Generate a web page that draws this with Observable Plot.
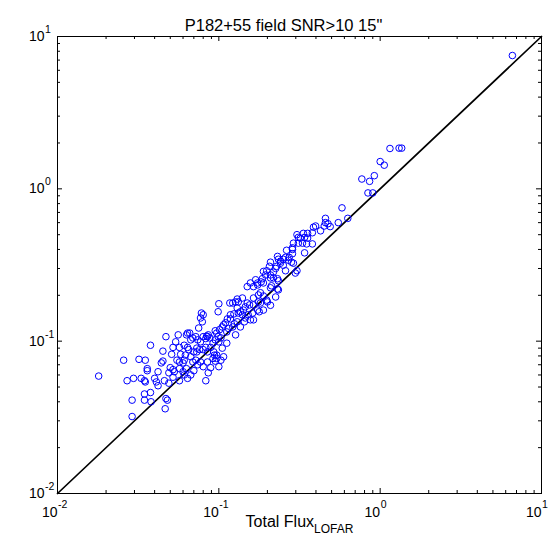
<!DOCTYPE html>
<html>
<head>
<meta charset="utf-8">
<script src="https://cdn.jsdelivr.net/npm/d3@7"></script>
<script src="https://cdn.jsdelivr.net/npm/@observablehq/plot@0.6"></script>
<style>
  body { margin: 0; background: #fff; }
  #chart svg { display: block; }
</style>
</head>
<body>
<div id="chart"></div>
<script>
// Total flux LOFAR (x) and comparison flux (y)
const fluxLOFAR = [
  0.018, 0.0257, 0.027, 0.0296, 0.029, 0.029, 0.032, 0.035, 0.036, 0.036,
  0.033, 0.0346, 0.035, 0.0377, 0.0377, 0.0346, 0.0346, 0.038, 0.040, 0.041,
  0.042, 0.042, 0.044, 0.045, 0.047, 0.045, 0.046, 0.047, 0.048, 0.0465,
  0.049, 0.051, 0.050, 0.049, 0.052, 0.052, 0.053, 0.056, 0.057, 0.058,
  0.057, 0.057, 0.060, 0.061, 0.061, 0.060, 0.064, 0.064, 0.083, 0.063,
  0.066, 0.067, 0.069, 0.072, 0.074, 0.064, 0.077, 0.080, 0.084, 0.075,
  0.079, 0.077, 0.080, 0.078, 0.083, 0.086, 0.085, 0.083, 0.097, 0.099,
  0.103, 0.095, 0.100, 0.099, 0.100, 0.117, 0.122, 0.127, 0.132, 0.140,
  0.150, 0.155, 0.146, 0.142, 0.136, 0.132, 0.140, 0.162, 0.152, 0.146,
  0.174, 0.164, 0.130, 0.125, 0.122, 0.115, 0.112, 0.118, 0.110, 0.107,
  0.105, 0.073, 0.070, 0.076, 0.073, 0.080, 0.085, 0.089, 0.093, 0.097,
  0.092, 0.094, 0.097, 0.103, 0.107, 0.074, 0.100, 0.061, 0.065, 0.062,
  0.067, 0.069, 0.072, 0.077, 0.080, 0.085, 0.089, 0.063, 0.070, 0.086,
  0.095, 0.055, 0.052, 0.054, 0.067, 0.057, 0.150, 0.164, 0.174, 0.176,
  0.181, 0.157, 0.169, 0.174, 0.183, 0.186, 0.195, 0.189, 0.198, 0.189,
  0.218, 0.209, 0.218, 0.209, 0.231, 0.234, 0.212, 0.231, 0.225, 0.189,
  0.209, 0.234, 0.259, 0.298, 0.305, 0.209, 0.206, 0.231, 0.234, 0.241,
  0.251, 0.228, 0.225, 0.259, 0.251, 0.241, 0.273, 0.270, 0.282, 0.290,
  0.286, 0.286, 0.181, 0.198, 0.209, 0.189, 0.178, 0.386, 0.427, 0.380,
  0.334, 0.305, 0.311, 0.355, 0.330, 0.380, 0.290, 0.286, 0.340, 0.450,
  0.458, 0.458, 0.490, 0.550, 0.580, 0.630, 0.398, 0.320, 0.263, 0.77,
  0.86, 0.92, 0.84, 0.90, 1.00, 1.06, 1.15, 1.31, 1.36, 6.6,
  0.095, 0.101, 0.113, 0.118, 0.124, 0.088, 0.092, 0.105, 0.112, 0.127,
  0.136, 0.144, 0.157, 0.164, 0.176, 0.130, 0.200, 0.164, 0.130, 0.355,
  0.340, 0.311, 0.350, 0.475
];
const fluxComparison = [
  0.059, 0.075, 0.055, 0.057, 0.041, 0.032, 0.076, 0.075, 0.066, 0.064,
  0.057, 0.055, 0.054, 0.094, 0.046, 0.045, 0.041, 0.040, 0.057, 0.054,
  0.051, 0.063, 0.072, 0.074, 0.107, 0.086, 0.055, 0.042, 0.041, 0.036,
  0.062, 0.082, 0.067, 0.053, 0.065, 0.058, 0.063, 0.110, 0.091, 0.082,
  0.066, 0.073, 0.072, 0.075, 0.060, 0.063, 0.113, 0.057, 0.055, 0.110,
  0.113, 0.102, 0.105, 0.107, 0.102, 0.091, 0.099, 0.107, 0.108, 0.122,
  0.134, 0.142, 0.149, 0.153, 0.091, 0.110, 0.107, 0.104, 0.113, 0.107,
  0.105, 0.102, 0.099, 0.156, 0.176, 0.178, 0.178, 0.181, 0.181, 0.192,
  0.178, 0.173, 0.168, 0.160, 0.156, 0.153, 0.149, 0.153, 0.149, 0.142,
  0.160, 0.138, 0.134, 0.130, 0.124, 0.121, 0.115, 0.140, 0.132, 0.128,
  0.124, 0.090, 0.085, 0.088, 0.085, 0.088, 0.085, 0.091, 0.085, 0.081,
  0.077, 0.081, 0.077, 0.075, 0.079, 0.070, 0.068, 0.094, 0.088, 0.081,
  0.079, 0.073, 0.075, 0.073, 0.068, 0.073, 0.067, 0.066, 0.064, 0.062,
  0.074, 0.075, 0.091, 0.099, 0.060, 0.055, 0.228, 0.228, 0.234, 0.201,
  0.208, 0.241, 0.253, 0.241, 0.245, 0.257, 0.272, 0.241, 0.290, 0.287,
  0.284, 0.272, 0.260, 0.260, 0.257, 0.249, 0.231, 0.220, 0.195, 0.198,
  0.224, 0.217, 0.290, 0.280, 0.290, 0.330, 0.310, 0.360, 0.345, 0.325,
  0.315, 0.310, 0.300, 0.355, 0.345, 0.335, 0.355, 0.340, 0.330, 0.325,
  0.400, 0.375, 0.178, 0.186, 0.172, 0.160, 0.156, 0.56, 0.53, 0.515,
  0.51, 0.50, 0.48, 0.475, 0.44, 0.435, 0.44, 0.41, 0.38, 0.57,
  0.60, 0.64, 0.565, 0.60, 0.75, 0.64, 0.57, 0.475, 0.395, 1.16,
  1.12, 1.22, 0.94, 0.94, 1.51, 1.43, 1.84, 1.85, 1.85, 7.5,
  0.117, 0.119, 0.140, 0.149, 0.151, 0.105, 0.097, 0.090, 0.097, 0.110,
  0.124, 0.134, 0.138, 0.173, 0.181, 0.165, 0.181, 0.192, 0.189, 0.51,
  0.48, 0.44, 0.435, 0.59
];

const majorTicks = [0.01, 0.1, 1, 10];
const tickExponents = ["-2", "-1", "0", "1"];
const minorTicks = [
  0.02, 0.03, 0.04, 0.05, 0.06, 0.07, 0.08, 0.09,
  0.2, 0.3, 0.4, 0.5, 0.6, 0.7, 0.8, 0.9,
  2, 3, 4, 5, 6, 7, 8, 9
];
const identityLine = [0.01, 10];
const titleText = "P182+55 field SNR>10 15\"";
const xLabelText = "Total Flux";
const xLabelSub = "LOFAR";

const points = fluxLOFAR.map((v, i) => ({lofar: v, other: fluxComparison[i]}));

const W = 549, H = 543;
const mL = 57, mR = 8, mT = 36, mB = 50;
const pw = W - mL - mR, ph = H - mT - mB;
const majLen = 5, minLen = 3;
const fmt = d => "10^" + tickExponents[majorTicks.indexOf(d)];

const chart = Plot.plot({
  width: W, height: H,
  marginLeft: mL, marginRight: mR, marginTop: mT, marginBottom: mB,
  x: {type: "log", domain: [0.01, 10]},
  y: {type: "log", domain: [0.01, 10]},
  style: {fontFamily: "'Liberation Sans', Arial, Helvetica, sans-serif", background: "#fff", color: "#000"},
  marks: [
    Plot.line(identityLine, {x: d => d, y: d => d, stroke: "#000", strokeWidth: 1.7}),
    Plot.dot(points, {x: "lofar", y: "other", r: 3.3, stroke: "#0000ff", strokeWidth: 1, fill: "none"}),
    // inward ticks on all four sides
    Plot.tickX(majorTicks, {x: d => d, insetTop: ph - majLen, stroke: "#000"}),
    Plot.tickX(minorTicks, {x: d => d, insetTop: ph - minLen, stroke: "#000"}),
    Plot.tickX(majorTicks, {x: d => d, insetBottom: ph - majLen, stroke: "#000"}),
    Plot.tickX(minorTicks, {x: d => d, insetBottom: ph - minLen, stroke: "#000"}),
    Plot.tickY(majorTicks, {y: d => d, insetRight: pw - majLen, stroke: "#000"}),
    Plot.tickY(minorTicks, {y: d => d, insetRight: pw - minLen, stroke: "#000"}),
    Plot.tickY(majorTicks, {y: d => d, insetLeft: pw - majLen, stroke: "#000"}),
    Plot.tickY(minorTicks, {y: d => d, insetLeft: pw - minLen, stroke: "#000"}),
    Plot.frame({stroke: "#000", strokeWidth: 1}),
    Plot.axisX(majorTicks, {tickSize: 0, tickPadding: 14, tickFormat: fmt, fontSize: 14, label: null}),
    Plot.axisY(majorTicks, {tickSize: 0, tickPadding: 13, tickFormat: fmt, fontSize: 14, label: null}),
    Plot.text([titleText], {frameAnchor: "top", dy: -17, dx: -16, fontSize: 16.5}),
    Plot.text([xLabelText], {frameAnchor: "bottom", dy: 33, fontSize: 16})
  ]
});

// superscript exponents: "10" ends at anchor, exponent starts there
function splitSup(label) {
  chart.querySelectorAll(`g[aria-label="${label}"] text`).forEach(t => {
    const m = t.textContent.match(/^10\^(.+)$/);
    if (!m) return;
    t.textContent = "10";
    t.setAttribute("text-anchor", "end");
    const s = t.cloneNode(false);
    s.textContent = m[1];
    s.setAttribute("text-anchor", "start");
    s.setAttribute("font-size", "10.5");
    const tr = t.getAttribute("transform") || "";
    s.setAttribute("transform", (tr + " translate(0.5,-7)").trim());
    t.parentNode.appendChild(s);
  });
}
splitSup("x-axis tick label");
splitSup("y-axis tick label");

// subscript for the x label
chart.querySelectorAll("text").forEach(t => {
  if (t.textContent !== xLabelText) return;
  const sub = document.createElementNS("http://www.w3.org/2000/svg", "tspan");
  sub.setAttribute("dy", "0.55em");
  sub.setAttribute("font-size", "12");
  sub.textContent = xLabelSub;
  t.appendChild(sub);
});

document.getElementById("chart").appendChild(chart);
</script>
</body>
</html>
